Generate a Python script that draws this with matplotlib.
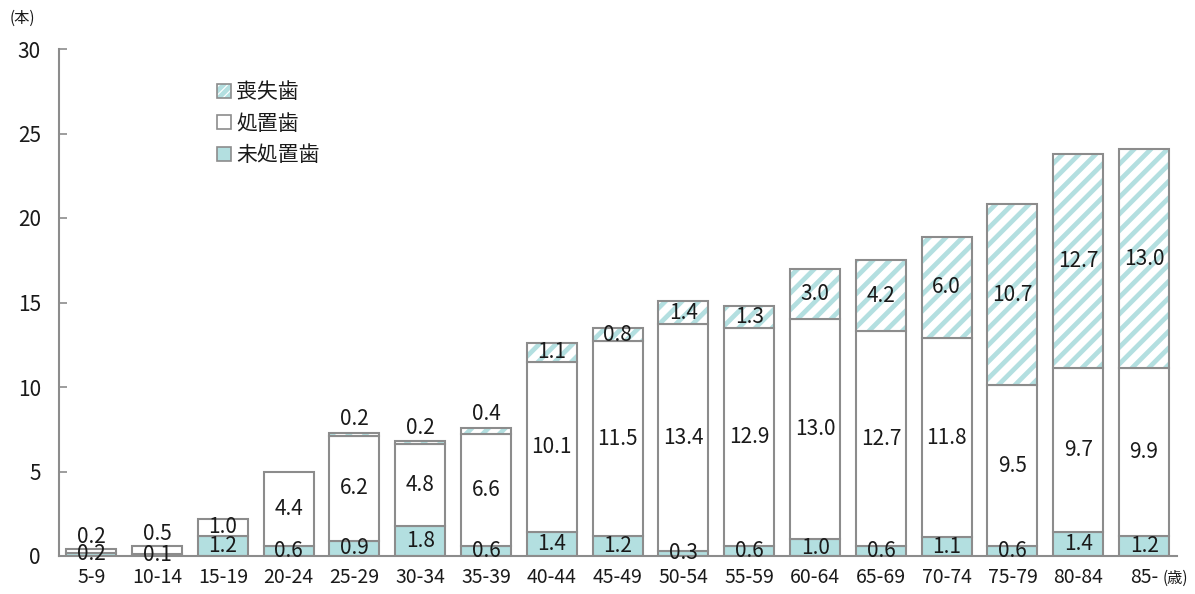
import matplotlib
matplotlib.use("Agg")
import matplotlib.pyplot as plt
from matplotlib.patches import Patch
import numpy as np

plt.rcParams['font.family'] = ['Noto Sans CJK JP', 'DejaVu Sans']
plt.rcParams['hatch.linewidth'] = 3.4

categories = ["5-9", "10-14", "15-19", "20-24", "25-29", "30-34", "35-39", "40-44",
              "45-49", "50-54", "55-59", "60-64", "65-69", "70-74", "75-79", "80-84", "85-"]
untreated = [0.2, 0.1, 1.2, 0.6, 0.9, 1.8, 0.6, 1.4, 1.2, 0.3, 0.6, 1.0, 0.6, 1.1, 0.6, 1.4, 1.2]
treated = [0.2, 0.5, 1.0, 4.4, 6.2, 4.8, 6.6, 10.1, 11.5, 13.4, 12.9, 13.0, 12.7, 11.8, 9.5, 9.7, 9.9]
lost = [0.0, 0.0, 0.0, 0.0, 0.2, 0.2, 0.4, 1.1, 0.8, 1.4, 1.3, 3.0, 4.2, 6.0, 10.7, 12.7, 13.0]
series_names = ["未処置歯", "処置歯", "喪失歯"]

teal = "#b3dfe0"
edge = "#8c8c8c"
text_c = "#1a1a1a"

fig = plt.figure(figsize=(11.95, 5.94), dpi=100)
ax = fig.add_axes([59/1195, 38/594, 1118/1195, 507/594])

x = np.arange(len(categories))
w = 0.76
u = np.array(untreated)
t = np.array(treated)
l = np.array(lost)

ax.bar(x, u, w, color=teal, edgecolor=edge, linewidth=1.5, zorder=2)
ax.bar(x, t, w, bottom=u, color="white", edgecolor=edge, linewidth=1.5, zorder=2)
mask = l > 0
ax.bar(x[mask], l[mask], w, bottom=(u + t)[mask], color="white", edgecolor=teal,
       linewidth=0, hatch="//", zorder=2)
ax.bar(x[mask], l[mask], w, bottom=(u + t)[mask], facecolor="none", edgecolor=edge,
       linewidth=1.5, zorder=3)

fs = 15
for i in range(len(categories)):
    ax.text(x[i], u[i] / 2, f"{u[i]:.1f}", ha="center", va="center", fontsize=fs,
            color=text_c, zorder=5)
    top_t = u[i] + t[i]
    if l[i] == 0 and t[i] <= 0.5:
        ax.text(x[i], top_t + 0.05, f"{t[i]:.1f}", ha="center", va="bottom",
                fontsize=fs, color=text_c, zorder=5)
    else:
        ax.text(x[i], u[i] + t[i] / 2, f"{t[i]:.1f}", ha="center", va="center",
                fontsize=fs, color=text_c, zorder=5)
    if l[i] > 0:
        top = top_t + l[i]
        if l[i] < 0.5:
            ax.text(x[i], top + 0.15, f"{l[i]:.1f}", ha="center", va="bottom",
                    fontsize=fs, color=text_c, zorder=5)
        else:
            ax.text(x[i], top_t + l[i] / 2, f"{l[i]:.1f}", ha="center", va="center",
                    fontsize=fs, color=text_c, zorder=5)

ax.set_xlim(-0.49, 16.5)
ax.set_ylim(0, 30)
ax.set_yticks(np.arange(0, 31, 5))
ax.set_xticks(x)
ax.set_xticklabels(categories, fontsize=14, color=text_c)
ax.tick_params(axis="y", direction="in", length=6, color=edge, width=1.2,
               labelsize=15, labelcolor=text_c, pad=13)
ax.tick_params(axis="x", length=0, pad=8)
for s in ["top", "right"]:
    ax.spines[s].set_visible(False)
for s in ["left", "bottom"]:
    ax.spines[s].set_color(edge)
    ax.spines[s].set_linewidth(1.5)

fig.text(10/1195, 1 - 18/594, "(本)", fontsize=11, color=text_c, va="center", ha="left")
fig.text(1163/1195, 1 - 578/594, "(歳)", fontsize=11, color=text_c, va="center", ha="left")

h_lost = (Patch(facecolor="white", edgecolor=teal, hatch="////", linewidth=0),
          Patch(facecolor="none", edgecolor=edge, linewidth=1.2))
handles = [h_lost,
           Patch(facecolor="white", edgecolor=edge, linewidth=1.2),
           Patch(facecolor=teal, edgecolor=edge, linewidth=1.2)]
leg = ax.legend(handles, series_names[::-1], loc="upper left",
                bbox_to_anchor=(150/1118, 1 - 24/507), frameon=False, fontsize=15,
                handlelength=0.65, handleheight=0.65, handletextpad=0.25, labelspacing=0.45,
                borderaxespad=0)
for txt in leg.get_texts():
    txt.set_color(text_c)

fig.savefig("out.png", dpi=100)
